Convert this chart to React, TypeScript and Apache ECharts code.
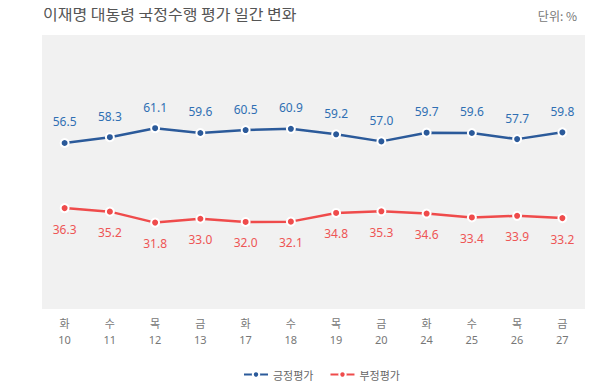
import React, { useEffect, useRef } from "react";
import * as echarts from "echarts";

const days = ["화", "수", "목", "금", "화", "수", "목", "금", "화", "수", "목", "금"];
const dates = ["10", "11", "12", "13", "17", "18", "19", "20", "24", "25", "26", "27"];
const positive = [56.5, 58.3, 61.1, 59.6, 60.5, 60.9, 59.2, 57.0, 59.7, 59.6, 57.7, 59.8];
const negative = [36.3, 35.2, 31.8, 33.0, 32.0, 32.1, 34.8, 35.3, 34.6, 33.4, 33.9, 33.2];
const seriesNames = ["긍정평가", "부정평가"];
const titleText = "이재명 대통령 국정수행 평가 일간 변화";
const unitText = "단위: %";

const FONT = "'Noto Sans CJK KR', 'Noto Sans', sans-serif";
const NUMFONT = "'Noto Sans', 'Noto Sans CJK KR', sans-serif";

export default function App() {
  const ref = useRef<HTMLDivElement>(null);
  useEffect(() => {
    if (!ref.current) return;
    const chart = echarts.init(ref.current, null, { renderer: "svg" });
    const categories = days.map((d, i) => d + "\n" + dates[i]);
    chart.setOption({
      animation: false,
      backgroundColor: "#ffffff",
      textStyle: { fontFamily: FONT },
      title: [
        {
          text: titleText,
          left: 38,
          top: 0,
          textStyle: { fontSize: 16, fontWeight: "normal", color: "#555555", fontFamily: FONT },
        },
        {
          text: unitText,
          right: 22,
          top: 4,
          textStyle: { fontSize: 12, fontWeight: "normal", color: "#777777", fontFamily: FONT },
        },
      ],
      legend: {
        bottom: 5,
        left: 238,
        itemWidth: 24,
        itemHeight: 8,
        itemGap: 16,
        textStyle: { fontSize: 11, color: "#666666", fontFamily: FONT },
        data: seriesNames,
      },
      grid: {
        left: 42,
        right: 19,
        top: 35,
        bottom: 81,
        show: true,
        backgroundColor: "#f1f1f1",
        borderWidth: 0,
      },
      xAxis: {
        type: "category",
        data: categories,
        boundaryGap: true,
        axisLine: { show: false },
        axisTick: { show: false },
        axisLabel: {
          color: "#777777",
          fontSize: 11,
          lineHeight: 16,
          margin: 6,
          fontFamily: NUMFONT,
        },
      },
      yAxis: {
        type: "value",
        min: 5,
        max: 90,
        show: false,
        splitLine: { show: false },
      },
      series: [
        {
          name: seriesNames[0],
          type: "line",
          data: positive,
          symbol: "circle",
          symbolSize: 8,
          showAllSymbol: true,
          lineStyle: { color: "#2b5a9a", width: 2.5 },
          itemStyle: { color: "#2b5a9a", borderColor: "#ffffff", borderWidth: 2 },
          label: {
            show: true,
            position: "top",
            distance: 10,
            color: "#2f6fb3",
            fontSize: 12,
            fontFamily: NUMFONT,
            formatter: (p: any) => p.value.toFixed(1),
          },
        },
        {
          name: seriesNames[1],
          type: "line",
          data: negative,
          symbol: "circle",
          symbolSize: 8,
          showAllSymbol: true,
          lineStyle: { color: "#ef4b4b", width: 2.5 },
          itemStyle: { color: "#ef4b4b", borderColor: "#ffffff", borderWidth: 2 },
          label: {
            show: true,
            position: "bottom",
            distance: 10,
            color: "#ee5555",
            fontSize: 12,
            fontFamily: NUMFONT,
            formatter: (p: any) => p.value.toFixed(1),
          },
        },
      ],
    });
    return () => chart.dispose();
  }, []);
  return <div ref={ref} style={{ width: 604, height: 390, margin: -8 }} />;
}
